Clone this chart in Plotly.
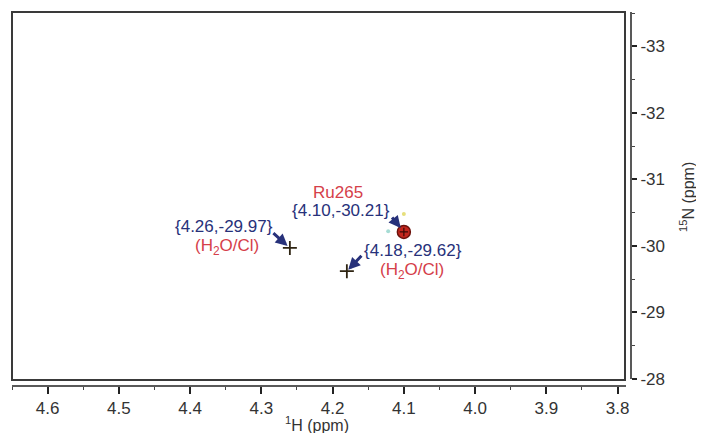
import plotly.graph_objects as go

# ---- data ----
peak_h = [4.26, 4.18, 4.10]
peak_n = [-29.97, -29.62, -30.21]
peak_name = ["", "", "Ru265"]
peak_assign = ["(H<sub>2</sub>O/Cl)", "(H<sub>2</sub>O/Cl)", ""]
speck_h = [4.100, 4.122]
speck_n = [-30.48, -30.22]
speck_color = ["#e6df7c", "#a6dcd4"]

x_tickvals = [4.6, 4.5, 4.4, 4.3, 4.2, 4.1, 4.0, 3.9, 3.8]
x_ticktext = ["4.6", "4.5", "4.4", "4.3", "4.2", "4.1", "4.0", "3.9", "3.8"]
y_tickvals = [-33, -32, -31, -30, -29, -28]
y_ticktext = ["-33", "-32", "-31", "-30", "-29", "-28"]

x_range = [4.65, 3.7812]
y_range = [-27.895, -33.5]

NAVY = "#27317a"
RED = "#d5404a"
FONT = "Liberation Sans, Arial, sans-serif"

fig = go.Figure()

# contour specks
fig.add_trace(go.Scatter(x=speck_h, y=speck_n, mode="markers",
                         marker=dict(size=4, color=speck_color), hoverinfo="skip"))

# plain peaks (+)
plain_h = [h for h, nm in zip(peak_h, peak_name) if nm == ""]
plain_n = [n for n, nm in zip(peak_n, peak_name) if nm == ""]
fig.add_trace(go.Scatter(x=plain_h, y=plain_n, mode="markers",
                         marker=dict(symbol="cross-thin", size=10,
                                     line=dict(width=1.8, color="#2e2412"))))

# named peak (red circle)
named_h = [h for h, nm in zip(peak_h, peak_name) if nm != ""]
named_n = [n for n, nm in zip(peak_n, peak_name) if nm != ""]
fig.add_trace(go.Scatter(x=named_h, y=named_n, mode="markers",
                         marker=dict(symbol="circle", size=13, color="#c4261d",
                                     line=dict(width=1.5, color="#6b120c"))))
fig.add_trace(go.Scatter(x=named_h, y=named_n, mode="markers",
                         marker=dict(symbol="cross-thin", size=6,
                                     line=dict(width=1.2, color="#3a0a06"))))

ARROW = dict(arrowhead=2, arrowsize=0.8, arrowwidth=3.0, arrowcolor=NAVY)

ann = []
for h, n, nm, asg in zip(peak_h, peak_n, peak_name, peak_assign):
    coord = "{%.2f,%.2f}" % (h, n)
    if nm:  # named peak: name above coordinate, label on the left
        ann.append(dict(x=h, y=n, text=nm, showarrow=False, xshift=-66, yshift=39,
                        font=dict(color=RED, size=17, family=FONT)))
        ann.append(dict(x=h, y=n, text=coord, showarrow=False, xshift=-63, yshift=21,
                        font=dict(color=NAVY, size=17, family=FONT)))
        ann.append(dict(x=h, y=n, text="", showarrow=True, ax=-13, ay=-16,
                        standoff=5, **ARROW))
    elif h > 4.2:  # label to the left
        ann.append(dict(x=h, y=n, text=coord, showarrow=False, xshift=-66, yshift=21,
                        font=dict(color=NAVY, size=17, family=FONT)))
        ann.append(dict(x=h, y=n, text=asg, showarrow=False, xshift=-63, yshift=1,
                        font=dict(color=RED, size=17, family=FONT)))
        ann.append(dict(x=h, y=n, text="", showarrow=True, ax=-18, ay=-16,
                        standoff=3, **ARROW))
    else:  # label to the right
        ann.append(dict(x=h, y=n, text=coord, showarrow=False, xshift=66, yshift=21,
                        font=dict(color=NAVY, size=17, family=FONT)))
        ann.append(dict(x=h, y=n, text=asg, showarrow=False, xshift=65, yshift=0,
                        font=dict(color=RED, size=17, family=FONT)))
        ann.append(dict(x=h, y=n, text="", showarrow=True, ax=16, ay=-17,
                        standoff=2, **ARROW))

# page body adds an 8px offset; the figure is sized so the plot lands where intended
OFF = 8
W, H = 704 - OFF, 433 - OFF
PL, PT, PR, PB = 12 - OFF, 13 - OFF, 631 - OFF, 386 - OFF  # plot area in figure px
PW, PH = PR - PL, PB - PT

def px(xp):
    return (xp - OFF - PL) / PW

def py(yp):
    return (PB - (yp - OFF)) / PH

# axis titles
ann.append(dict(xref="paper", yref="paper", x=px(317), y=py(424),
                text="<sup>1</sup>H (ppm)", showarrow=False, xanchor="center", yanchor="middle",
                font=dict(size=16, color="#333333", family=FONT)))
ann.append(dict(xref="paper", yref="paper", x=px(687), y=py(197),
                text="<sup>15</sup>N (ppm)", showarrow=False, textangle=-90,
                xanchor="center", yanchor="middle",
                font=dict(size=16, color="#333333", family=FONT)))

shapes = [
    dict(type="rect", xref="paper", yref="paper", x0=px(12), x1=px(625), y0=py(380), y1=py(12),
         line=dict(color="#3a3a3a", width=2)),
    dict(type="line", xref="paper", yref="paper", x0=px(12), x1=px(626), y0=0, y1=0,
         line=dict(color="#222222", width=1.5)),
    dict(type="line", xref="paper", yref="paper", x0=1, x1=1, y0=py(379), y1=py(12),
         line=dict(color="#222222", width=1.5)),
]

fig.update_layout(
    width=W, height=H,
    margin=dict(l=PL, r=W - PR, t=PT, b=H - PB, autoexpand=False),
    paper_bgcolor="white", plot_bgcolor="white",
    showlegend=False,
    font=dict(family=FONT, color="#333333"),
    annotations=ann,
    shapes=shapes,
    xaxis=dict(range=x_range, tickmode="array", tickvals=x_tickvals, ticktext=x_ticktext,
               ticks="outside", ticklen=7, tickwidth=1.5, tickcolor="#222222",
               showline=False, showgrid=False, zeroline=False, automargin=False,
               tickfont=dict(size=17, color="#333333", family=FONT),
               minor=dict(tickmode="linear", tick0=0, dtick=0.05, ticks="outside",
                          ticklen=3, tickwidth=1.2, tickcolor="#444444")),
    yaxis=dict(range=y_range, side="right", tickmode="array", tickvals=y_tickvals,
               ticktext=y_ticktext,
               ticks="outside", ticklen=5, tickwidth=1.5, tickcolor="#222222",
               showline=False, showgrid=False, zeroline=False, automargin=False,
               tickfont=dict(size=17, color="#333333", family=FONT),
               minor=dict(tickmode="linear", tick0=0, dtick=0.5, ticks="outside",
                          ticklen=3, tickwidth=1.2, tickcolor="#444444")),
)

fig.write_html("out.html")
